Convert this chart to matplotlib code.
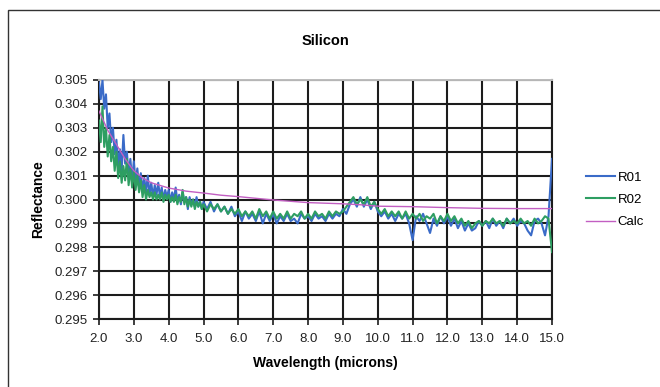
import numpy as np
import matplotlib
matplotlib.use("Agg")
import matplotlib.pyplot as plt
from matplotlib.patches import Rectangle

plt.rcParams['font.family'] = ['Liberation Sans', 'DejaVu Sans']

# wavelength sampling: 0.05 um steps up to 4.95, then 0.1 um steps to 15.0
wl_fine = np.round(np.arange(2.0, 4.96, 0.05), 2)
wl_coarse = np.round(np.arange(5.0, 15.01, 0.1), 2)
wavelength = np.concatenate([wl_fine, wl_coarse])

r01 = [
    # 2.00 - 4.95
    0.3049, 0.3042, 0.3050, 0.3038, 0.3044, 0.3030, 0.3036, 0.3024, 0.3030, 0.3019,
    0.3025, 0.3014, 0.3021, 0.3012, 0.3027, 0.3015, 0.3020, 0.3010, 0.3017, 0.3008,
    0.3016, 0.3007, 0.3013, 0.3005, 0.3011, 0.3004, 0.3009, 0.3003, 0.3010, 0.3002,
    0.3007, 0.3001, 0.3006, 0.3002, 0.3007, 0.3001, 0.3005, 0.3000, 0.3004, 0.3001,
    0.3004, 0.2999, 0.3003, 0.3000, 0.3005, 0.2999, 0.3002, 0.2998, 0.3003, 0.2999,
    0.3001, 0.2996, 0.3001, 0.2998, 0.3000, 0.2997, 0.3001, 0.2997, 0.2999, 0.2996,
    # 5.0 - 15.0
    0.2999, 0.2996, 0.2999, 0.2995, 0.2998, 0.2995, 0.2997, 0.2994, 0.2997, 0.2993,
    0.2995, 0.2991, 0.2995, 0.2992, 0.2994, 0.2991, 0.2995, 0.2990, 0.2994, 0.2991,
    0.2994, 0.2990, 0.2993, 0.2991, 0.2994, 0.2991, 0.2992, 0.2990, 0.2994, 0.2992,
    0.2993, 0.2991, 0.2994, 0.2992, 0.2993, 0.2991, 0.2994, 0.2992, 0.2994, 0.2993,
    0.2996, 0.2994, 0.2998, 0.3000, 0.2997, 0.3001, 0.2997, 0.3000, 0.2996, 0.2999,
    0.2995, 0.2993, 0.2995, 0.2992, 0.2994, 0.2991, 0.2994, 0.2992, 0.2994, 0.2990,
    0.2983, 0.2993, 0.2991, 0.2994, 0.2990, 0.2986, 0.2992, 0.2989, 0.2993, 0.2990,
    0.2993, 0.2989, 0.2992, 0.2988, 0.2991, 0.2987, 0.2990, 0.2987, 0.2988, 0.2991,
    0.2989, 0.2991, 0.2988, 0.2992, 0.2989, 0.2991, 0.2988, 0.2992, 0.2990, 0.2992,
    0.2989, 0.2991, 0.2990, 0.2987, 0.2985, 0.2991, 0.2992, 0.2990, 0.2985, 0.2993,
    0.3017,
]

r02 = [
    # 2.00 - 4.95
    0.3033, 0.3024, 0.3039, 0.3022, 0.3030, 0.3018, 0.3027, 0.3016, 0.3022, 0.3012,
    0.3020, 0.3009, 0.3016, 0.3007, 0.3014, 0.3008, 0.3017, 0.3006, 0.3013, 0.3005,
    0.3012, 0.3004, 0.3010, 0.3003, 0.3008, 0.3001, 0.3006, 0.3000, 0.3004, 0.3001,
    0.3003, 0.3000, 0.3003, 0.3000, 0.3002, 0.3000, 0.3003, 0.2999, 0.3002, 0.3000,
    0.3002, 0.2999, 0.3001, 0.2999, 0.3002, 0.2998, 0.3001, 0.2999, 0.3004, 0.2998,
    0.3001, 0.2997, 0.3000, 0.2997, 0.3000, 0.2996, 0.2999, 0.2997, 0.2999, 0.2996,
    # 5.0 - 15.0
    0.2998, 0.2995, 0.2998, 0.2996, 0.2998, 0.2995, 0.2997, 0.2994, 0.2996, 0.2994,
    0.2996, 0.2993, 0.2995, 0.2993, 0.2995, 0.2992, 0.2996, 0.2993, 0.2995, 0.2992,
    0.2995, 0.2992, 0.2994, 0.2992, 0.2995, 0.2992, 0.2994, 0.2993, 0.2995, 0.2992,
    0.2994, 0.2992, 0.2995, 0.2993, 0.2994, 0.2992, 0.2995, 0.2993, 0.2995, 0.2994,
    0.2995, 0.2997, 0.2999, 0.3001, 0.2998, 0.3000, 0.2998, 0.3001, 0.2997, 0.2999,
    0.2996, 0.2994, 0.2996, 0.2993, 0.2995, 0.2993, 0.2995, 0.2992, 0.2995, 0.2992,
    0.2994, 0.2992, 0.2994, 0.2991, 0.2993, 0.2992, 0.2994, 0.2990, 0.2993, 0.2991,
    0.2994, 0.2991, 0.2993, 0.2990, 0.2992, 0.2989, 0.2991, 0.2988, 0.2990, 0.2991,
    0.2989, 0.2991, 0.2990, 0.2992, 0.2990, 0.2991, 0.2989, 0.2992, 0.2990, 0.2991,
    0.2990, 0.2992, 0.2990, 0.2991, 0.2989, 0.2992, 0.2990, 0.2991, 0.2993, 0.2992,
    0.2978,
]

calc_wl = [2.0, 2.25, 2.5, 2.75, 3.0, 3.25, 3.5, 4.0, 4.5, 5.0, 5.5, 6.0, 7.0,
           8.0, 9.0, 9.5, 10.0, 11.0, 12.0, 13.0, 14.0, 15.0]
calc = [0.3037, 0.3029, 0.3023, 0.3017, 0.3012, 0.3009, 0.3007, 0.30048, 0.30035,
        0.30027, 0.30018, 0.30012, 0.29998, 0.29987, 0.29982, 0.29978, 0.29972,
        0.29970, 0.29966, 0.29963, 0.29962, 0.29962]

x_ticks = np.arange(2.0, 15.01, 1.0)
y_ticks = np.arange(0.295, 0.30501, 0.001)

fig = plt.figure(figsize=(6.6, 3.87), dpi=100)
ax = fig.add_axes([99/660, 1 - 319/387, (552 - 99)/660, (319 - 80)/387])

# outer chart frame (only top/left edges visible in the original crop)
fig.patches.append(Rectangle((8/660, -0.1), 1.2, 1 - 10/387 + 0.1, transform=fig.transFigure,
                             fill=False, edgecolor='#333333', linewidth=1.0))

ax.plot(wavelength, r01, color='#3a6bc8', linewidth=1.5, label='R01', zorder=3)
ax.plot(wavelength, r02, color='#2e9e62', linewidth=1.5, label='R02', zorder=4)
ax.plot(calc_wl, calc, color='#c25fc2', linewidth=1.0, label='Calc', zorder=5)

ax.set_xlim(2.0, 15.0)
ax.set_ylim(0.295, 0.305)
ax.set_xticks(x_ticks)
ax.set_xticklabels(['%.1f' % v for v in x_ticks])
ax.set_yticks(y_ticks)
ax.set_yticklabels(['%.3f' % v for v in y_ticks])
ax.grid(True, color='#1c1c1c', linewidth=1.5)
ax.set_axisbelow(True)

for side in ['left', 'bottom', 'right']:
    ax.spines[side].set_color('#1c1c1c')
    ax.spines[side].set_linewidth(1.5)
ax.spines['top'].set_color('#bbbbbb')
ax.spines['top'].set_linewidth(1.4)

ax.tick_params(axis='x', direction='out', length=4, width=1.2, color='#1c1c1c',
               labelsize=9.5, labelcolor='#222222', pad=6)
ax.tick_params(axis='y', direction='out', length=4, width=1.2, color='#1c1c1c',
               labelsize=9.5, labelcolor='#222222', pad=4)

ax.set_title('Silicon', fontsize=10.5, fontweight='bold', pad=25)
ax.set_xlabel('Wavelength (microns)', fontsize=10, fontweight='bold', labelpad=8)
ax.set_ylabel('Reflectance', fontsize=10, fontweight='bold', labelpad=7)

fig.legend(loc='center left', bbox_to_anchor=(574/660, 1 - 200/387), frameon=False,
           fontsize=9.5, handlelength=2.2, handletextpad=0.2, labelspacing=0.75)

fig.savefig('out.png', dpi=100)
